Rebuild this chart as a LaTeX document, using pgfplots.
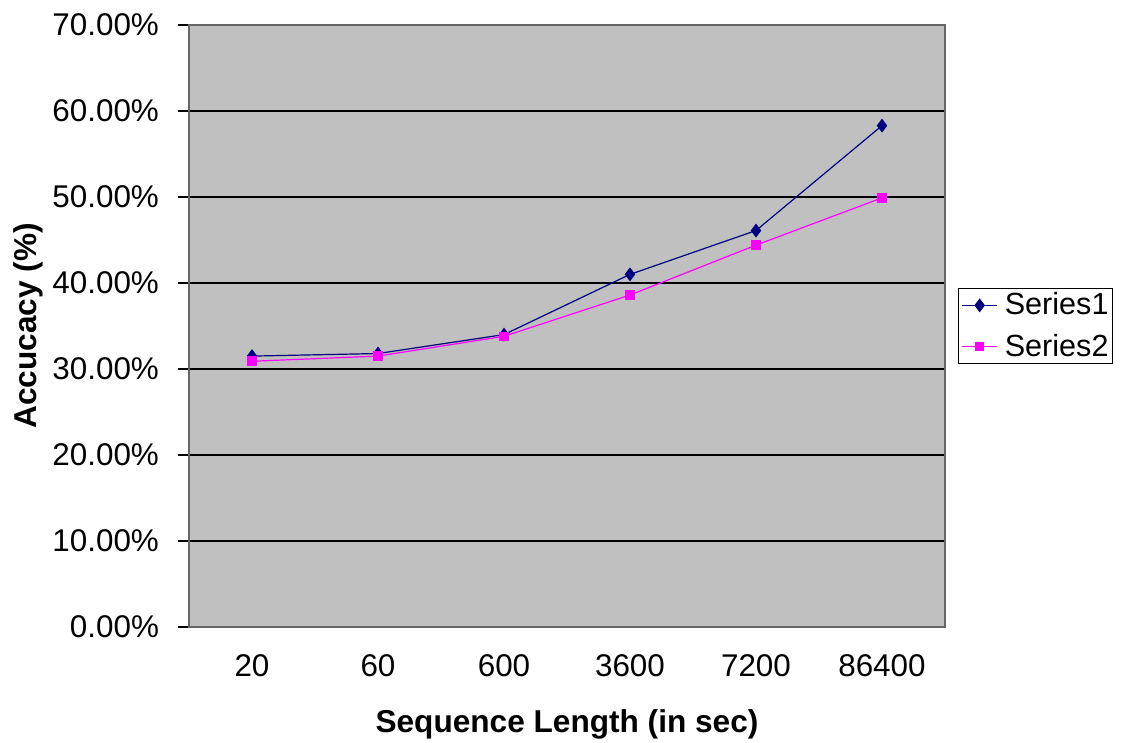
\documentclass[border=0pt]{standalone}
\usepackage{pgfplots}
\pgfplotsset{compat=1.18}
\usepackage{fontspec}
\setmainfont{Liberation Sans}
\definecolor{navy}{HTML}{000080}
\definecolor{mag}{HTML}{FF00FF}
\definecolor{plotbg}{HTML}{C0C0C0}
\begin{document}
\begin{tikzpicture}
\begin{axis}[
  at={(0,0)}, anchor=south west,
  scale only axis, width=378pt, height=301pt,
  xmin=-0.5, xmax=5.5, ymin=0, ymax=70,
  axis background/.style={fill=plotbg},
  axis line style={draw=gray!80!black, line width=0.8pt},
  xtick pos=bottom, ytick pos=left,
  xtick={0,1,2,3,4,5},
  xticklabels={20,60,600,3600,7200,86400},
  xtick style={draw=none},
  extra x ticks={-0.5,0.5,1.5,2.5,3.5,4.5,5.5},
  extra x tick labels={},
  extra x tick style={tick style={draw=black, line width=0.6pt}, major tick length=5.5pt, tick align=outside, grid=none},
  ytick={0,10,...,70},
  yticklabels={0.00\%,10.00\%,20.00\%,30.00\%,40.00\%,50.00\%,60.00\%,70.00\%},
  ytick style={draw=black, line width=0.6pt},
  major tick length=5.5pt, tick align=outside,
  ymajorgrids, grid style={draw=black, line width=0.8pt},
  tick label style={font=\fontsize{15.7}{18}\selectfont},
  yticklabel style={xshift=-6pt},
  xticklabel style={yshift=-5pt},
  xlabel={\bfseries Sequence Length (in sec)},
  ylabel={\bfseries Accucacy (\%)},
  label style={font=\fontsize{15.8}{18}\selectfont\bfseries},
  xlabel style={at={(axis description cs:0.5,0)}, anchor=center, yshift=-48.5pt},
  ylabel style={at={(axis description cs:-0.213,0.5)}, anchor=center},
  legend style={at={(1.0172,0.5)}, anchor=west, draw=black, line width=0.6pt,
    font=\fontsize{15.3}{15.5}\selectfont, inner sep=1.5pt, row sep=7pt,
    nodes={inner sep=0.5pt},
    cells={anchor=west}},
  legend image code/.code={
    \draw[#1, mark repeat=2, mark phase=2] plot coordinates {(0pt,0pt) (8.75pt,0pt) (17.5pt,0pt)};},
]
\addplot[navy, line width=0.6pt, mark=diamond*, mark size=3pt, mark options={fill=navy, draw=navy}]
  coordinates {(0,31.5) (1,31.8) (2,34.0) (3,41.0) (4,46.1) (5,58.3)};
\addlegendentry{\hspace{3pt}Series1}
\addplot[mag, line width=0.6pt, mark=square*, mark size=2.1pt, mark options={fill=mag, draw=mag}]
  coordinates {(0,30.9) (1,31.5) (2,33.8) (3,38.6) (4,44.4) (5,49.9)};
\addlegendentry{\hspace{3pt}Series2}
\end{axis}
\pgfresetboundingbox
\path (-94.5pt,-58pt) rectangle (466pt,313.5pt);
\end{tikzpicture}
\end{document}
